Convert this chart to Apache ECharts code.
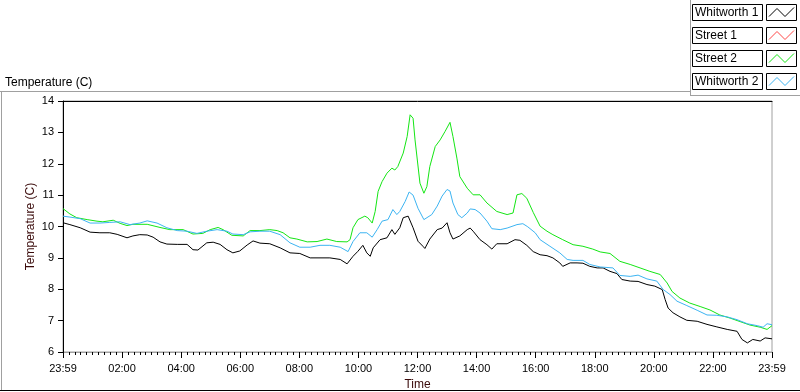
<!DOCTYPE html>
<html><head><meta charset="utf-8">
<script src="https://cdn.jsdelivr.net/npm/echarts@6/dist/echarts.min.js"></script>
<style>html,body{margin:0;padding:0;background:#fff}#c{width:800px;height:392px}</style>
</head><body><div id="c"></div>
<script>
// ---- data (minutes since 23:59 start, temperature in C) ----
const seriesNames = ['Whitworth 1', 'Street 1', 'Street 2', 'Whitworth 2'];
const seriesColors = ['#000000', '#ff4848', '#14e614', '#3cb4f2'];
const xTickLabels = ['23:59','02:00','04:00','06:00','08:00','10:00','12:00','14:00','16:00','18:00','20:00','22:00','23:59'];

const w1Time = [0,14,35,55,75,95,110,130,142,156,171,183,197,211,232,252,264,274,292,305,319,333,345,359,374,386,400,420,441,461,481,502,522,542,563,577,589,599,609,617,624,630,644,658,668,674,684,691,701,711,721,731,735,745,760,770,780,786,792,806,821,827,833,847,861,871,881,902,918,928,942,955,969,983,995,1009,1015,1030,1044,1056,1070,1085,1097,1111,1125,1135,1152,1168,1186,1202,1217,1223,1229,1239,1253,1267,1288,1308,1328,1349,1369,1379,1390,1401,1416,1426,1440];
const w1Temp = [10.12,10.06,9.96,9.82,9.8,9.8,9.75,9.64,9.7,9.74,9.73,9.66,9.51,9.44,9.43,9.43,9.26,9.25,9.48,9.5,9.43,9.26,9.16,9.22,9.41,9.54,9.47,9.45,9.32,9.16,9.14,9.0,9.0,9.0,8.95,8.81,9.05,9.21,9.4,9.16,9.05,9.32,9.58,9.64,9.9,9.75,9.96,10.28,10.33,9.96,9.53,9.37,9.3,9.6,9.9,9.95,10.12,9.8,9.6,9.7,9.9,9.95,9.85,9.58,9.42,9.28,9.45,9.45,9.58,9.56,9.4,9.2,9.1,9.07,9.0,8.84,8.73,8.84,8.84,8.83,8.73,8.68,8.68,8.57,8.5,8.31,8.26,8.25,8.15,8.1,7.99,7.67,7.4,7.25,7.12,7.01,6.98,6.88,6.8,6.72,6.66,6.4,6.29,6.4,6.35,6.45,6.42];

const s1Time = [];
const s1Temp = [];

const s2Time = [0,14,28,49,69,81,102,116,130,142,171,197,217,244,264,284,299,315,325,343,366,380,400,420,435,447,461,475,496,516,536,556,577,583,589,599,613,619,628,634,640,648,658,668,674,680,691,699,705,711,715,725,733,739,745,756,766,776,786,792,800,806,821,833,847,861,881,902,914,922,932,942,955,969,983,995,1015,1036,1056,1076,1091,1111,1131,1152,1172,1192,1213,1227,1237,1253,1273,1294,1314,1334,1355,1375,1395,1416,1430,1440];
const s2Temp = [10.57,10.4,10.28,10.22,10.17,10.15,10.2,10.1,10.03,10.07,10.07,9.97,9.9,9.9,9.76,9.78,9.9,9.97,9.9,9.72,9.7,9.87,9.87,9.9,9.87,9.8,9.64,9.6,9.51,9.52,9.6,9.52,9.51,9.58,9.96,10.22,10.33,10.28,10.11,10.48,11.12,11.43,11.7,11.86,11.8,11.91,12.34,12.87,13.56,13.45,12.76,11.38,11.06,11.27,11.91,12.55,12.76,13.03,13.32,12.87,12.18,11.59,11.22,11.01,11.01,10.75,10.48,10.38,10.43,11.01,11.05,10.9,10.45,10.01,9.85,9.74,9.58,9.42,9.37,9.28,9.19,9.14,8.89,8.79,8.68,8.57,8.47,8.2,7.93,7.72,7.56,7.45,7.34,7.18,7.08,6.97,6.86,6.79,6.72,6.84];

const w2Time = [0,14,35,55,75,95,116,136,156,171,191,211,232,252,272,292,313,333,345,366,380,400,420,441,461,481,502,522,542,563,579,589,603,617,628,638,648,660,670,678,684,695,703,711,721,733,749,760,770,780,786,792,802,810,821,827,837,847,861,871,888,902,922,934,944,959,969,989,1009,1024,1036,1056,1070,1091,1117,1131,1152,1168,1186,1206,1219,1233,1247,1267,1288,1308,1328,1349,1369,1390,1410,1422,1430,1440];
const w2Temp = [10.33,10.3,10.25,10.11,10.11,10.13,10.15,10.06,10.11,10.18,10.11,9.96,9.87,9.85,9.78,9.85,9.9,9.85,9.76,9.74,9.83,9.85,9.85,9.74,9.48,9.34,9.34,9.4,9.4,9.34,9.2,9.52,9.8,9.8,9.66,9.9,10.17,10.22,10.54,10.38,10.48,10.8,11.1,11.0,10.58,10.22,10.38,10.65,10.97,11.18,11.13,10.75,10.38,10.28,10.43,10.56,10.54,10.43,10.17,9.93,9.9,9.95,10.06,10.09,9.99,9.8,9.58,9.37,9.16,8.95,8.92,8.92,8.79,8.71,8.68,8.44,8.41,8.45,8.33,8.26,7.99,7.83,7.62,7.48,7.33,7.18,7.17,7.12,7.03,6.9,6.84,6.79,6.9,6.87];

// ---- chart ----
const FONT = '"Liberation Sans", Arial, sans-serif';
const pairs = (t, v) => t.map((m, i) => [m, v[i]]);
const seriesData = [pairs(w1Time, w1Temp), pairs(s1Time, s1Temp), pairs(s2Time, s2Temp), pairs(w2Time, w2Temp)];

const chart = echarts.init(document.getElementById('c'), null, {renderer: 'canvas'});

// legend panel + frames as graphic decoration
const graphics = [
  {type: 'line', shape: {x1: 0, y1: 91.5, x2: 690, y2: 91.5}, style: {stroke: '#a0a0a0', lineWidth: 1}, silent: true},
  {type: 'line', shape: {x1: 1.5, y1: 91, x2: 1.5, y2: 391}, style: {stroke: '#a0a0a0', lineWidth: 1}, silent: true},
  {type: 'line', shape: {x1: 0, y1: 390.5, x2: 800, y2: 390.5}, style: {stroke: '#000', lineWidth: 1}, silent: true},
  {type: 'line', shape: {x1: 690.5, y1: 0, x2: 690.5, y2: 96}, style: {stroke: '#a0a0a0', lineWidth: 1}, silent: true},
  {type: 'line', shape: {x1: 690, y1: 95.5, x2: 800, y2: 95.5}, style: {stroke: '#a0a0a0', lineWidth: 1}, silent: true},
  {type: 'text', left: 5, top: 77, style: {text: 'Temperature (C)', font: '12px ' + FONT, fill: '#000'}, silent: true}
];
seriesNames.forEach((name, i) => {
  const y0 = 4.5 + i * 23;
  graphics.push({type: 'rect', shape: {x: 692.5, y: y0, width: 70, height: 16}, style: {fill: '#fff', stroke: '#000', lineWidth: 1}, silent: true});
  graphics.push({type: 'text', x: 695, y: y0 + 8.5, style: {text: name, font: '12px ' + FONT, fill: '#000', textVerticalAlign: 'middle'}, silent: true});
  graphics.push({type: 'rect', shape: {x: 766.5, y: y0, width: 30, height: 16}, style: {fill: '#fff', stroke: '#000', lineWidth: 1}, silent: true});
  graphics.push({type: 'polyline', shape: {points: [[769, y0 + 12], [777, y0 + 4], [785, y0 + 12], [794, y0 + 3]]}, style: {stroke: seriesColors[i], lineWidth: 1, fill: null}, silent: true});
});

const option = {
  animation: false,
  backgroundColor: '#fff',
  grid: {left: 63, top: 101, width: 709, height: 251, show: true, borderColor: '#a0a0a0', borderWidth: 1, backgroundColor: '#fff', containLabel: false, outerBoundsMode: 'none'},
  xAxis: [{
    type: 'value', min: 0, max: 1440, interval: 120,
    name: 'Time', nameLocation: 'middle', nameGap: 27, nameMoveOverlap: false,
    nameTextStyle: {fontFamily: FONT, fontSize: 12, color: '#3a0a0a'},
    axisLine: {show: true, lineStyle: {color: '#a0a0a0', width: 1}},
    axisTick: {show: true, length: 6, lineStyle: {color: '#000'}},
    minorTick: {show: true, splitNumber: 10, length: 3, lineStyle: {color: '#000'}},
    axisLabel: {fontFamily: FONT, fontSize: 11, color: '#000', margin: 11,
      formatter: v => xTickLabels[Math.round(v / 120)]},
    splitLine: {show: false}, minorSplitLine: {show: false}
  }, {
    type: 'value', min: 0, max: 1440, position: 'top',
    axisLine: {show: true, onZero: false, lineStyle: {color: '#000', width: 1}},
    axisTick: {show: false}, axisLabel: {show: false}, splitLine: {show: false}
  }],
  yAxis: {
    type: 'value', min: 6, max: 14, interval: 1,
    name: 'Temperature (C)', nameLocation: 'middle', nameGap: 26, nameRotate: 90, nameMoveOverlap: false,
    nameTextStyle: {fontFamily: FONT, fontSize: 12, color: '#3a0a0a'},
    axisLine: {show: true, lineStyle: {color: '#000', width: 1}},
    axisTick: {show: true, length: 5, lineStyle: {color: '#000'}},
    axisLabel: {fontFamily: FONT, fontSize: 11, color: '#000', margin: 9},
    splitLine: {show: false}
  },
  series: seriesNames.map((name, i) => ({
    name: name, type: 'line', xAxisIndex: 0, data: seriesData[i],
    showSymbol: false, symbol: 'none', smooth: false,
    lineStyle: {color: seriesColors[i], width: 1}, itemStyle: {color: seriesColors[i]},
    emphasis: {disabled: true}
  })),
  graphic: graphics
};
chart.setOption(option);
</script></body></html>
